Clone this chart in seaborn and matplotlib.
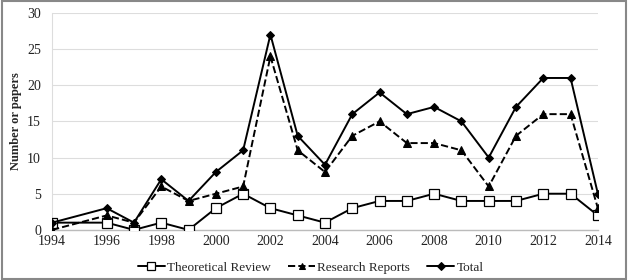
"""Number of papers per year, by type."""

import matplotlib.pyplot as plt
import matplotlib.patches as mpatches
import pandas as pd
import seaborn as sns

years = [1994, 1996, 1997, 1998, 1999, 2000, 2001, 2002, 2003, 2004,
         2005, 2006, 2007, 2008, 2009, 2010, 2011, 2012, 2013, 2014]
theoretical = [1, 1, 0, 1, 0, 3, 5, 3, 2, 1, 3, 4, 4, 5, 4, 4, 4, 5, 5, 2]
research = [0, 2, 1, 6, 4, 5, 6, 24, 11, 8, 13, 15, 12, 12, 11, 6, 13, 16, 16, 3]
total = [1, 3, 1, 7, 4, 8, 11, 27, 13, 9, 16, 19, 16, 17, 15, 10, 17, 21, 21, 5]
x_ticks = list(range(1994, 2015, 2))
y_ticks = [0, 5, 10, 15, 20, 25, 30]

sns.set_style("white")
plt.rcParams["font.family"] = ["Liberation Serif", "DejaVu Serif"]

df = pd.DataFrame({"year": years, "Theoretical Review": theoretical,
                   "Research Reports": research, "Total": total})

fig = plt.figure(figsize=(6.28, 2.8), dpi=100)
ax = fig.add_axes([0.083, 0.179, 0.869, 0.775])

sns.lineplot(data=df, x="year", y="Theoretical Review", ax=ax, color="black", linewidth=1.4,
             marker="s", markersize=6.5, markerfacecolor="white", markeredgecolor="black",
             markeredgewidth=0.9, label="Theoretical Review", zorder=3)
sns.lineplot(data=df, x="year", y="Research Reports", ax=ax, color="black", linewidth=1.4,
             linestyle="--", dashes=(3.5, 2), marker="^", markersize=5.5, markerfacecolor="black",
             markeredgecolor="black", label="Research Reports", zorder=4)
sns.lineplot(data=df, x="year", y="Total", ax=ax, color="black", linewidth=1.4,
             marker="D", markersize=4.5, markerfacecolor="black", markeredgecolor="black",
             label="Total", zorder=5)

ax.set_xlim(1994, 2014)
ax.set_ylim(0, 30)
ax.set_xticks(x_ticks)
ax.set_yticks(y_ticks)
ax.tick_params(axis="both", labelsize=10, length=0, labelcolor="#222222")
ax.tick_params(axis="y", pad=8)
ax.tick_params(axis="x", pad=4)
ax.grid(axis="y", color="#dddddd", linewidth=0.8)
ax.set_axisbelow(True)
ax.set_xlabel("")
ax.set_ylabel("Number or papers", fontsize=9, fontweight="bold", labelpad=4)

for side in ["top", "right"]:
    ax.spines[side].set_visible(False)
ax.spines["left"].set_color("#dddddd")
ax.spines["bottom"].set_color("#bbbbbb")
ax.spines["bottom"].set_linewidth(1.0)

handles, labels = ax.get_legend_handles_labels()
ax.get_legend().remove()
fig.legend(handles, labels, loc="center", bbox_to_anchor=(0.495, 0.045), ncol=3, frameon=False,
           fontsize=9.5, handlelength=2.0, columnspacing=1.3, handletextpad=0.2, markerscale=0.8)

fig.patches.append(mpatches.Rectangle((0.003, 0.004), 0.994, 0.992, transform=fig.transFigure,
                                      fill=False, edgecolor="#888888", linewidth=1.5))

fig.savefig("out.png", dpi=100)
